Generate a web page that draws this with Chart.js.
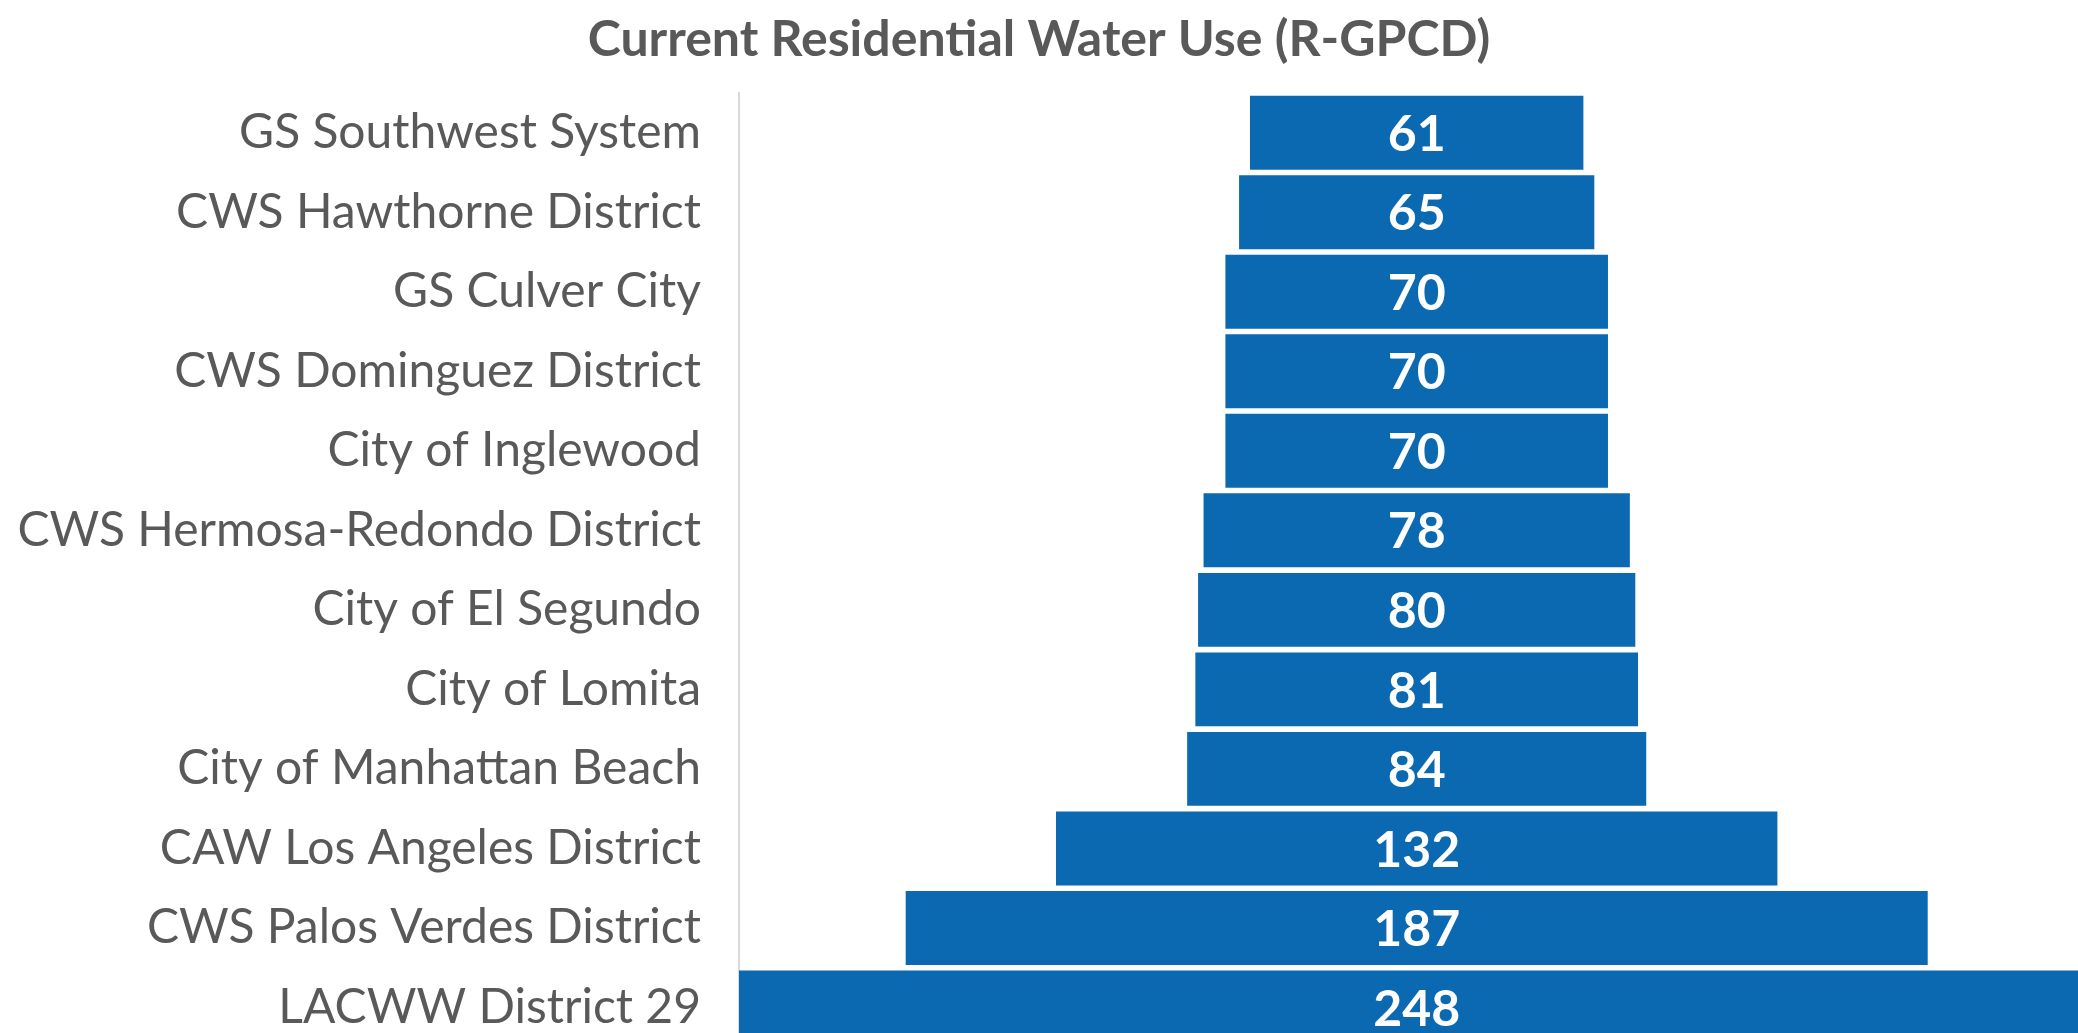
<!DOCTYPE html>
<html lang="en">
<head>
<meta charset="utf-8">
<title>Current Residential Water Use</title>
<script src="https://cdn.jsdelivr.net/npm/chart.js@4.4.1/dist/chart.umd.min.js"></script>
<style>
  html, body { margin: 0; padding: 0; background: #fff; overflow: hidden; }
  #funnel { display: block; }
</style>
</head>
<body>
<canvas id="funnel" width="2078" height="1114"></canvas>
<script>
// data
const categories = [
  "GS Southwest System",
  "CWS Hawthorne District",
  "GS Culver City",
  "CWS Dominguez District",
  "City of Inglewood",
  "CWS Hermosa-Redondo District",
  "City of El Segundo",
  "City of Lomita",
  "City of Manhattan Beach",
  "CAW Los Angeles District",
  "CWS Palos Verdes District",
  "LACWW District 29"
];
const rgpcd = [61, 65, 70, 70, 70, 78, 80, 81, 84, 132, 187, 248];
const axisRange = [0, 245];

// funnel: every bar centred on half the largest value
const mid = Math.max(...rgpcd) / 2;
const spans = rgpcd.map(v => [mid - v / 2, mid + v / 2]);

// white value label in the middle of each bar
const valueLabels = {
  id: 'valueLabels',
  afterDatasetsDraw(chart) {
    const ctx = chart.ctx;
    const meta = chart.getDatasetMeta(0);
    ctx.save();
    ctx.fillStyle = '#ffffff';
    ctx.font = 'bold 50px Lato';
    ctx.textAlign = 'center';
    ctx.textBaseline = 'middle';
    meta.data.forEach((bar, i) => {
      let cx = (bar.base + bar.x) / 2;
      ctx.fillText(String(rgpcd[i]), cx, bar.y + 2);
    });
    ctx.restore();
  }
};

const ctx = document.getElementById('funnel').getContext('2d');
const chart = new Chart(ctx, {
  type: 'bar',
  data: {
    labels: categories,
    datasets: [{
      label: 'R-GPCD',
      data: spans,
      backgroundColor: '#0b69b2',
      borderSkipped: false,
      categoryPercentage: 1,
      barPercentage: 0.93
    }]
  },
  options: {
    indexAxis: 'y',
    responsive: false,
    animation: false,
    layout: { padding: 0 },
    plugins: {
      legend: { display: false },
      tooltip: { enabled: false },
      title: {
        display: true,
        text: 'Current Residential Water Use (R-GPCD)',
        color: '#595959',
        font: { family: 'Lato', size: 50, weight: 'bold' },
        padding: { top: 10, bottom: 23 }
      }
    },
    scales: {
      x: {
        display: false,
        min: axisRange[0],
        max: axisRange[1]
      },
      y: {
        grid: { display: false, drawTicks: false },
        border: { display: true, color: '#d9d9d9', width: 2 },
        ticks: {
          color: '#595959',
          font: { family: 'Lato', size: 48 },
          padding: 38
        },
        afterFit(axis) { axis.width = 739; }
      }
    }
  },
  plugins: [valueLabels]
});
</script>
</body>
</html>
